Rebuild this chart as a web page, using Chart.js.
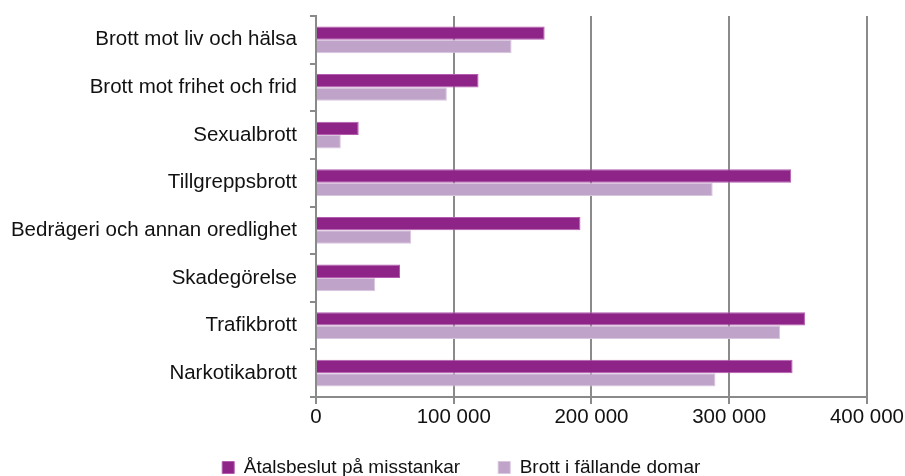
<!DOCTYPE html>
<html><head><meta charset="utf-8">
<script src="https://cdn.jsdelivr.net/npm/chart.js@4"></script>
<style>html,body{margin:0;padding:0;background:#fff}#wrap{width:905px;height:476px}</style>
</head><body><div id="wrap"><canvas id="c" width="905" height="476"></canvas></div>
<script>
const categories = ["Brott mot liv och hälsa","Brott mot frihet och frid","Sexualbrott","Tillgreppsbrott","Bedrägeri och annan oredlighet","Skadegörelse","Trafikbrott","Narkotikabrott"];
const atalsbeslut = [166000,118000,31000,345000,192000,61000,355000,346000];
const fallandeDomar = [142000,95000,18000,288000,69000,43000,337000,290000];
const xTicks = [0,100000,200000,300000,400000];
const seriesNames = ["Åtalsbeslut på misstankar","Brott i fällande domar"];

const fmt = v => String(v).replace(/\B(?=(\d{3})+(?!\d))/g, " ");
const family = "'Liberation Sans', Arial, sans-serif";
const font = {family:family, size:20.5};
const legendFont = {family:family, size:19};
new Chart(document.getElementById('c'), {
  type:'bar',
  data:{labels:categories, datasets:[
    {label:seriesNames[0], data:atalsbeslut, backgroundColor:'#8E2488', borderColor:'#B55CAF', borderWidth:1, barPercentage:1, categoryPercentage:0.56},
    {label:seriesNames[1], data:fallandeDomar, backgroundColor:'#BFA3C9', borderColor:'#D8C6DE', borderWidth:1, barPercentage:1, categoryPercentage:0.56}
  ]},
  options:{
    indexAxis:'y', responsive:false, animation:false,
    layout:{padding:{top:16,right:6.5,left:24,bottom:-11}},
    plugins:{
      tooltip:{enabled:false},
      legend:{position:'bottom', labels:{font:legendFont, color:'#111', boxWidth:12, boxHeight:12, padding:38}}
    },
    scales:{
      x:{min:0,max:400000,
        afterBuildTicks:s=>{s.ticks = xTicks.map(v=>({value:v}));},
        ticks:{callback:v=>fmt(v), font:font, color:'#111', padding:1, maxRotation:0},
        grid:{color:'#8a8a8a', lineWidth:2, tickLength:7},
        border:{color:'#8a8a8a', width:2},
        afterFit:s=>{s.height = 23; s._computeLabelArea = () => undefined;}
      },
      y:{
        afterFit:s=>{s.width = 292; s.paddingTop = 0; s.paddingBottom = 0; s._computeLabelArea = () => undefined;},
        ticks:{font:font, color:'#111', padding:13},
        grid:{offset:true, drawOnChartArea:false, color:'#8a8a8a', lineWidth:2, tickLength:6},
        border:{color:'#8a8a8a', width:2}
      }
    }
  }
});
</script></body></html>
